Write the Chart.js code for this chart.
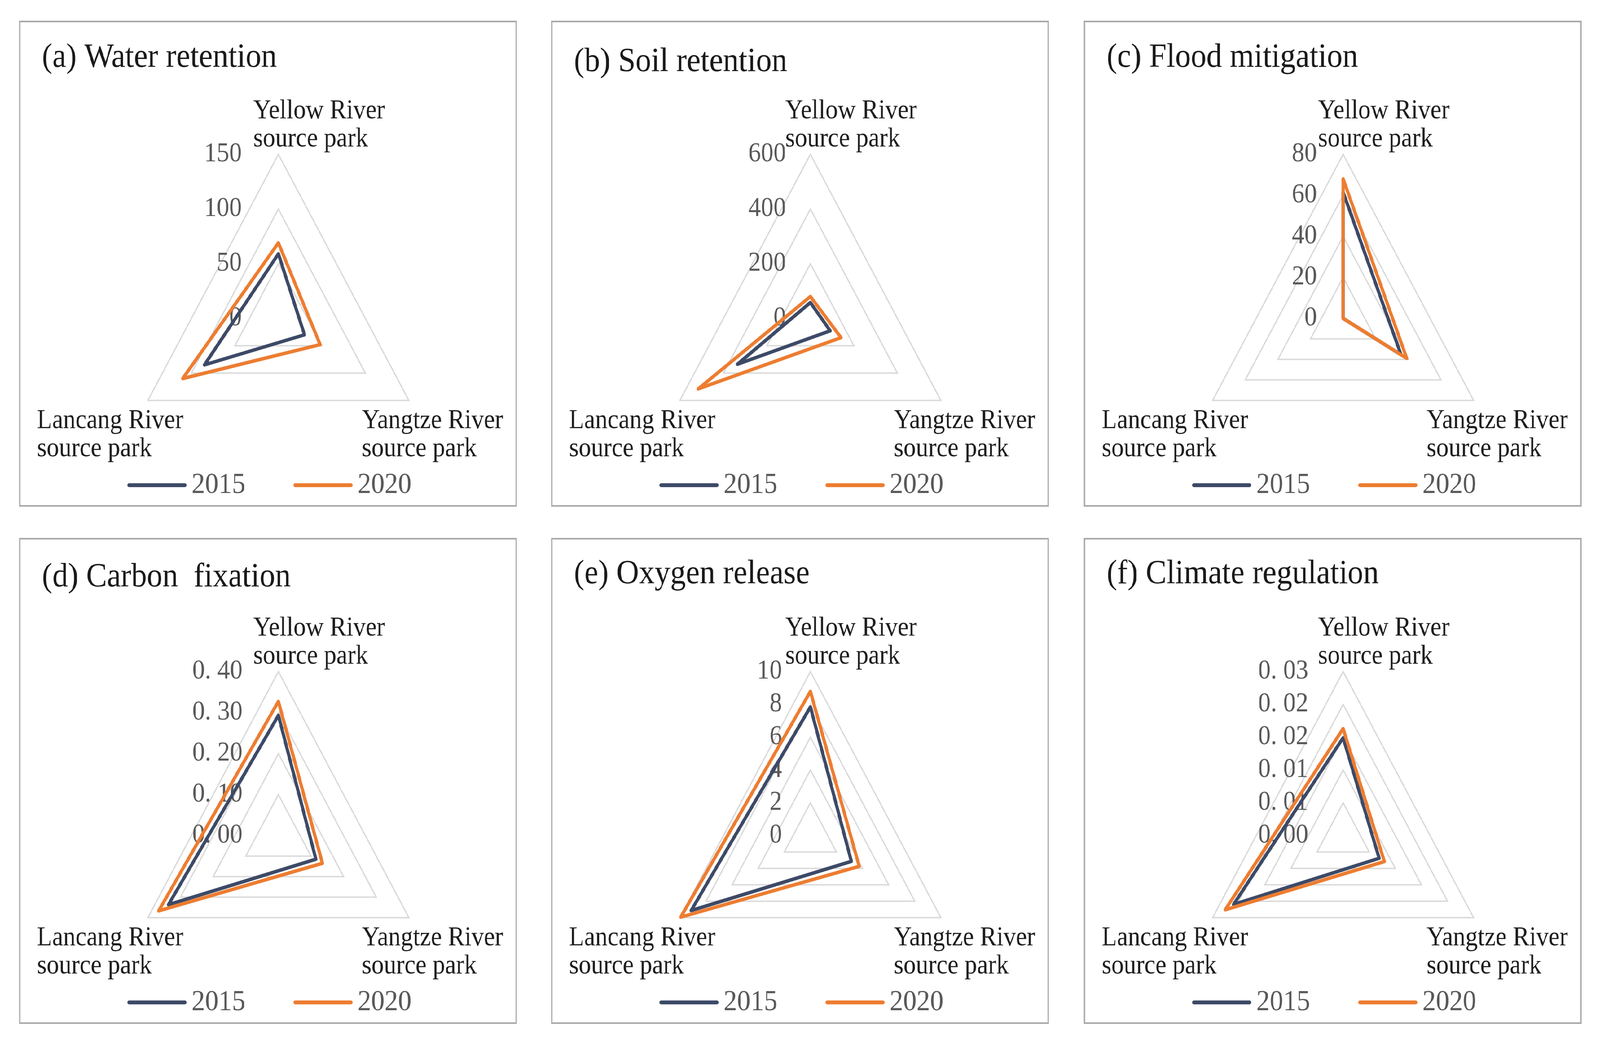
<!DOCTYPE html>
<html>
<head>
<meta charset="utf-8">
<script src="https://cdn.jsdelivr.net/npm/chart.js@4/dist/chart.umd.min.js"></script>
<style>
html,body{margin:0;padding:0;background:#ffffff;overflow:hidden;}
#stage{position:absolute;left:0;top:0;width:4460px;height:2675px;transform-origin:0 0;background:#fff;}
.panel{position:absolute;box-sizing:border-box;border:4px solid #a8a8a8;width:1388px;height:1244px;background:#fff;}
.panel canvas{position:absolute;left:0;top:0;}
</style>
</head>
<body>
<div id="stage">
<div class="panel" style="left:53px;top:53px"><canvas id="c0" width="1380" height="1236"></canvas></div>
<div class="panel" style="left:1536px;top:53px"><canvas id="c1" width="1380" height="1236"></canvas></div>
<div class="panel" style="left:3021px;top:53px"><canvas id="c2" width="1380" height="1236"></canvas></div>
<div class="panel" style="left:53px;top:1377px"><canvas id="c3" width="1380" height="1236"></canvas></div>
<div class="panel" style="left:1536px;top:1377px"><canvas id="c4" width="1380" height="1236"></canvas></div>
<div class="panel" style="left:3021px;top:1377px"><canvas id="c5" width="1380" height="1236"></canvas></div>
</div>
<script>
// ---- data (axis order: Yellow, Yangtze, Lancang) ----
const categories = [["Yellow River", "source park"], ["Yangtze River", "source park"], ["Lancang River", "source park"]];
const seriesNames = ["2015", "2020"];

const water2015 = [59, 30, 85];
const water2020 = [69, 48, 110];
const soil2015 = [58, 91, 336];
const soil2020 = [80, 141, 516];
const flood2015 = [61.5, 35.5, 0];
const flood2020 = [68, 39, 0];
const carbon2015 = [0.293, 0.115, 0.337];
const carbon2020 = [0.327, 0.135, 0.367];
const oxygen2015 = [7.84, 3.14, 9.14];
const oxygen2020 = [8.79, 3.74, 9.94];
const climate2015 = [0.0149, 0.0069, 0.0210];
const climate2020 = [0.0163, 0.0079, 0.0226];

const ticksWater = ["0", "50", "100", "150"];
const ticksSoil = ["0", "200", "400", "600"];
const ticksFlood = ["0", "20", "40", "60", "80"];
const ticksCarbon = ["0. 00", "0. 10", "0. 20", "0. 30", "0. 40"];
const ticksOxygen = ["0", "2", "4", "6", "8", "10"];
const ticksClimate = ["0. 00", "0. 01", "0. 01", "0. 02", "0. 02", "0. 03"];

const titles = ["(a) Water retention", "(b) Soil retention", "(c) Flood mitigation",
                "(d) Carbon  fixation", "(e) Oxygen release", "(f) Climate regulation"];

// ---- fit the 4460x2675 stage exactly into the actual viewport ----
const VW = window.innerWidth, VH = window.innerHeight;
const SX = VW / 4460, SY = VH / 2675;
document.getElementById("stage").style.transform = "scale(" + SX + "," + SY + ")";
document.documentElement.style.width = VW + "px";
document.body.style.width = VW + "px";
document.documentElement.style.height = VH + "px";
document.body.style.height = VH + "px";

// ---- style ----
const FAMILY = "'Liberation Serif','Times New Roman',serif";
const COLOR15 = "#3d4a67";
const COLOR20 = "#ed7d31";

const panels = [
  {title: titles[0], s15: water2015, s20: water2020, max: 150, step: 50, ticks: ticksWater, tickGap: 102, titleY: 91},
  {title: titles[1], s15: soil2015, s20: soil2020, max: 600, step: 200, ticks: ticksSoil, tickGap: 68, titleY: 102},
  {title: titles[2], s15: flood2015, s20: flood2020, max: 80, step: 20, ticks: ticksFlood, tickGap: 73, titleY: 91},
  {title: titles[3], s15: carbon2015, s20: carbon2020, max: 0.4, step: 0.1, ticks: ticksCarbon, tickGap: 100, titleY: 97},
  {title: titles[4], s15: oxygen2015, s20: oxygen2020, max: 10, step: 2, ticks: ticksOxygen, tickGap: 79, titleY: 89},
  {title: titles[5], s15: climate2015, s20: climate2020, max: 0.025, step: 0.005, ticks: ticksClimate, tickGap: 97, titleY: 89}
];

const LABEL_OFF = [{dx: -70, dy: -92}, {dx: -131, dy: 71}, {dx: -309, dy: 71}];
const LABEL_LINE = 72;

const decor = {
  id: 'decor',
  beforeDatasetsDraw(chart, args, opts) {
    const s = chart.scales.r, ctx = chart.ctx;
    ctx.save();
    ctx.font = "70px " + FAMILY;
    ctx.fillStyle = "#595959";
    ctx.textAlign = "right";
    ctx.textBaseline = "middle";
    s.ticks.forEach((t, i) => {
      const d = s.getDistanceFromCenterForValue(t.value);
      const lbl = (t.label !== undefined && t.label !== null) ? t.label : opts.labels[i];
      ctx.fillText(lbl, s.xCenter - opts.tickGap, s.yCenter - d);
    });
    ctx.restore();
  },
  afterDraw(chart, args, opts) {
    const s = chart.scales.r, ctx = chart.ctx;
    ctx.save();
    // category labels
    ctx.font = "69px " + FAMILY;
    ctx.fillStyle = "#1e1e1e";
    ctx.textAlign = "left";
    ctx.textBaseline = "alphabetic";
    chart.data.labels.forEach((lines, i) => {
      const p = s.getPointPosition(i, s.drawingArea);
      const off = LABEL_OFF[i];
      lines.forEach((ln, j) => ctx.fillText(ln, p.x + off.dx, p.y + off.dy + j * LABEL_LINE));
    });
    // legend
    const LINE = 165, GAP = 14, SPACE = 134;
    ctx.font = "75px " + FAMILY;
    const items = chart.data.datasets.map(ds => ({text: ds.label, color: ds.borderColor}));
    const widths = items.map(it => LINE + GAP + ctx.measureText(it.text).width);
    const total = widths.reduce((a, b) => a + b, 0) + SPACE * (items.length - 1);
    let x = chart.width / 2 + 4 - total / 2;
    const y = chart.height - 51;
    items.forEach((it, i) => {
      ctx.strokeStyle = it.color;
      ctx.lineWidth = 10;
      ctx.lineCap = "round";
      ctx.beginPath();
      ctx.moveTo(x + 5, y);
      ctx.lineTo(x + LINE - 5, y);
      ctx.stroke();
      ctx.fillStyle = "#595959";
      ctx.textAlign = "left";
      ctx.textBaseline = "middle";
      ctx.fillText(it.text, x + LINE + GAP, y);
      x += widths[i] + SPACE;
    });
    ctx.restore();
  }
};

panels.forEach((p, k) => {
  const padTop = p.titleY - 52;
  new Chart(document.getElementById("c" + k), {
    type: "radar",
    data: {
      labels: categories,
      datasets: [
        {label: seriesNames[0], data: p.s15, borderColor: COLOR15, backgroundColor: COLOR15,
         borderWidth: 9, pointRadius: 0, fill: false, order: 1},
        {label: seriesNames[1], data: p.s20, borderColor: COLOR20, backgroundColor: COLOR20,
         borderWidth: 9, pointRadius: 0, fill: false, order: 0}
      ]
    },
    options: {
      responsive: false,
      animation: false,
      devicePixelRatio: 1,
      layout: {padding: {left: 60, right: 2, top: 0, bottom: 58}},
      elements: {
        line: {borderJoinStyle: "round", borderCapStyle: "round", tension: 0},
        point: {radius: 0, hoverRadius: 0}
      },
      plugins: {
        legend: {display: false},
        tooltip: {enabled: false},
        title: {
          display: true, text: p.title, align: "start", color: "#1a1a1a",
          font: {family: FAMILY, size: 87, weight: "normal", lineHeight: 1.2},
          padding: {top: padTop, bottom: 338 - padTop - 104.4}
        },
        decor: {tickGap: p.tickGap, labels: p.ticks}
      },
      scales: {
        r: {
          min: 0, max: p.max,
          ticks: {stepSize: p.step, display: false, callback: (v, i) => p.ticks[i]},
          grid: {color: "#d9d9d9", lineWidth: 3.5, circular: false},
          angleLines: {display: false},
          pointLabels: {display: false}
        }
      }
    },
    plugins: [decor]
  });
});
</script>
</body>
</html>
